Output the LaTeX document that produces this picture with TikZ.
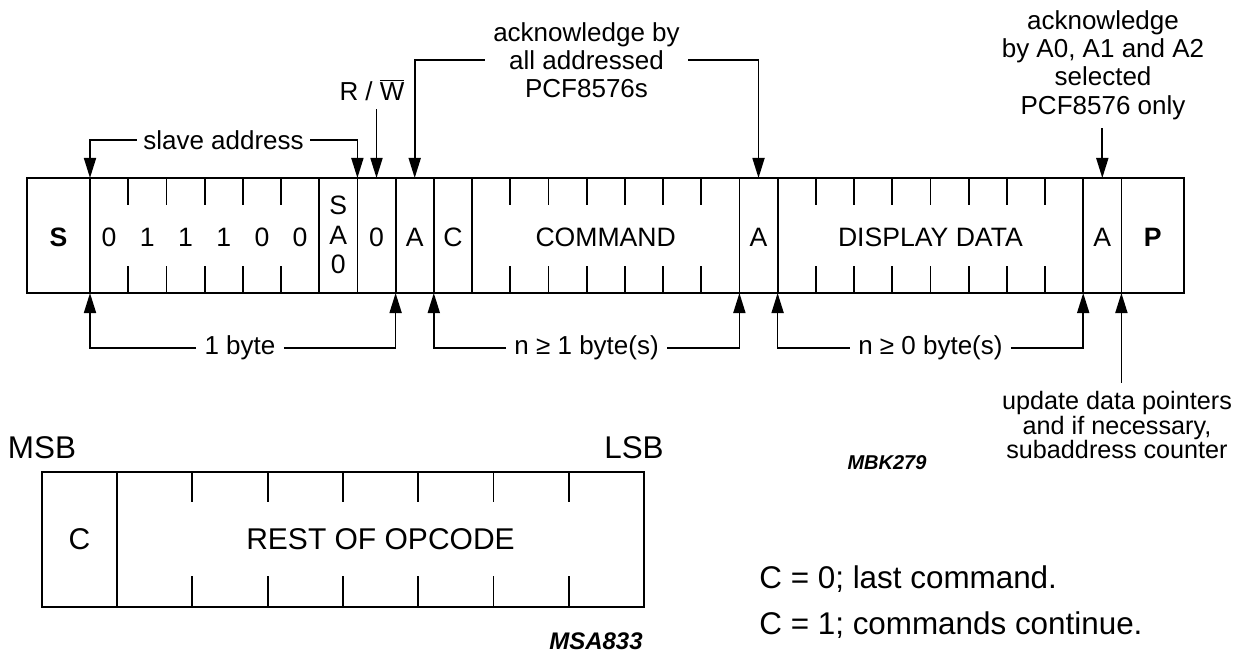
\documentclass[tikz,border=0pt]{standalone}
\usepackage{fontspec}
\setmainfont{Liberation Sans}
\usetikzlibrary{arrows.meta, positioning, calc}

\newcommand\tightlines{\lineskiplimit=-20pt\relax}

\tikzset{
    frame/.style={line width=0.9pt},
    ann/.style={line width=0.85pt, -{Triangle[length=10pt, width=6pt]}},
    cell/.style={font=\fontsize{13.3}{14.8}\selectfont, inner sep=1pt, align=center},
    boldcell/.style={cell, font=\fontsize{13.3}{14.8}\selectfont\bfseries},
    lbl/.style={font=\fontsize{13}{14.2}\selectfont, align=center, inner sep=4pt},
    big/.style={font=\fontsize{15.7}{18}\selectfont, inner sep=1pt},
    tag/.style={font=\fontsize{10}{12}\selectfont\bfseries\itshape, inner sep=1pt},
}

\begin{document}
\begin{tikzpicture}[x=0.5pt, y=-0.5pt]
\useasboundingbox (0,0) rectangle (1246,652);

% Transfer frame, cell k starts at 90+38.2k
\draw[frame] (27,178) rectangle (1184,293);
\foreach \k in {0,6,7,8,9,10,17,18,26,27}
    \draw[frame] ({90+38.2*\k},178) -- ({90+38.2*\k},293);
\foreach \a/\b in {1/5,11/16,19/25}
    \foreach \k in {\a,...,\b} {
        \draw[frame] ({90+38.2*\k},178) -- ++(0,27);
        \draw[frame] ({90+38.2*\k},293) -- ++(0,-27);
    }

% Arrow ends on the frame
\coordinate (adrL) at (90,178);
\coordinate (adrR) at ({90+38.2*7},178);
\coordinate (rwT) at ({90+38.2*7.5},178);
\coordinate (ackT1) at ({90+38.2*8.5},178);
\coordinate (ackT2) at ({90+38.2*17.5},178);
\coordinate (ackT3) at ({90+38.2*26.5},178);
\coordinate (byL) at (90,293);
\coordinate (byR) at ({90+38.2*8},293);
\coordinate (cmdL) at ({90+38.2*9},293);
\coordinate (cmdR) at ({90+38.2*17},293);
\coordinate (datL) at ({90+38.2*18},293);
\coordinate (datR) at ({90+38.2*26},293);
\coordinate (updB) at ({90+38.2*27},293);

% Cell contents
\node[boldcell] (start) at (58.5,237) {S};
\foreach \v [count=\i from 0] in {0,1,1,1,0,0}
    \node[cell] (bit\i) at ({90+38.2*(\i+0.5)},237) {\v};
\node[cell] (sa0) at ({90+38.2*6.5},235) {S\\A\\0};
\node[cell] (rwbit) at ({90+38.2*7.5},237) {0};
\node[cell] (ackA) at ({90+38.2*8.5},237) {A};
\node[cell] (cbit) at ({90+38.2*9.5},237) {C};
\node[cell] (cmd) at (605.7,237) {COMMAND};
\node[cell] (ackB) at ({90+38.2*17.5},237) {A};
\node[cell] (data) at (930.4,237) {DISPLAY DATA};
\node[cell] (ackC) at ({90+38.2*26.5},237) {A};
\node[boldcell] (stop) at (1152.7,237) {P};

% Labels above
\node[lbl, inner sep=3pt] (slave) at (223.5,140) {slave address};
\draw[ann] (slave.west) -| (adrL);
\draw[ann] (slave.east) -| (adrR);
\node[lbl] (rwlbl) at (372,90) {R / $\overline{\hbox{W}}$};
\draw[ann] (rwT |- rwlbl.south) -- (rwT);
\node[lbl, font=\fontsize{13}{14}\selectfont] (ackall) at (586.5,60) {acknowledge by\\all addressed\\PCF8576s};
\draw[ann] (ackall.west) -| (ackT1);
\draw[ann] (ackall.east) -| (ackT2);
\node[lbl] (acksel) at (1103,65) {acknowledge\\by A0, A1 and A2\\selected\\PCF8576 only};
\draw[ann] (ackT3 |- acksel.south) -- (ackT3);

% Labels below
\node[lbl] (onebyte) at (240,348) {1 byte};
\draw[ann] (onebyte.west) -| (byL);
\draw[ann] (onebyte.east) -| (byR);
\node[lbl] (ncmd) at (586.6,348) {n ≥ 1 byte(s)};
\draw[ann] (ncmd.west) -| (cmdL);
\draw[ann] (ncmd.east) -| (cmdR);
\node[lbl] (ndat) at (930.4,348) {n ≥ 0 byte(s)};
\draw[ann] (ndat.west) -| (datL);
\draw[ann] (ndat.east) -| (datR);
\node[lbl, font=\fontsize{12.6}{12.4}\selectfont\tightlines] (upd) at (1117,425) {update data pointers\\and if necessary,\\subaddress counter};
\draw[ann] (updB |- upd.north) -- (updB);
\node[tag] (mbk) at (887,463) {MBK279};

% Command byte
\draw[frame] (42,472) rectangle (644,607);
\draw[frame] (117,472) -- (117,607);
\foreach \k in {1,...,6} {
    \draw[frame] ({117+75.3*\k},472) -- ++(0,30);
    \draw[frame] ({117+75.3*\k},607) -- ++(0,-31);
}
\node[big] (msb) at (42,448) {MSB};
\node[big] (lsb) at (634,448) {LSB};
\node[big, font=\fontsize{15}{18}\selectfont] (opc) at (79.5,539) {C};
\node[big, font=\fontsize{15}{18}\selectfont] (rest) at (380.5,539) {REST OF OPCODE};
\node[tag, font=\fontsize{12}{14}\selectfont\bfseries\itshape] (msa) at (596,641) {MSA833};
\node[big, anchor=base west] (clast) at (757,588) {C = 0; last command.};
\node[big, anchor=base west] (cmore) at (757,634) {C = 1; commands continue.};

\end{tikzpicture}
\end{document}
